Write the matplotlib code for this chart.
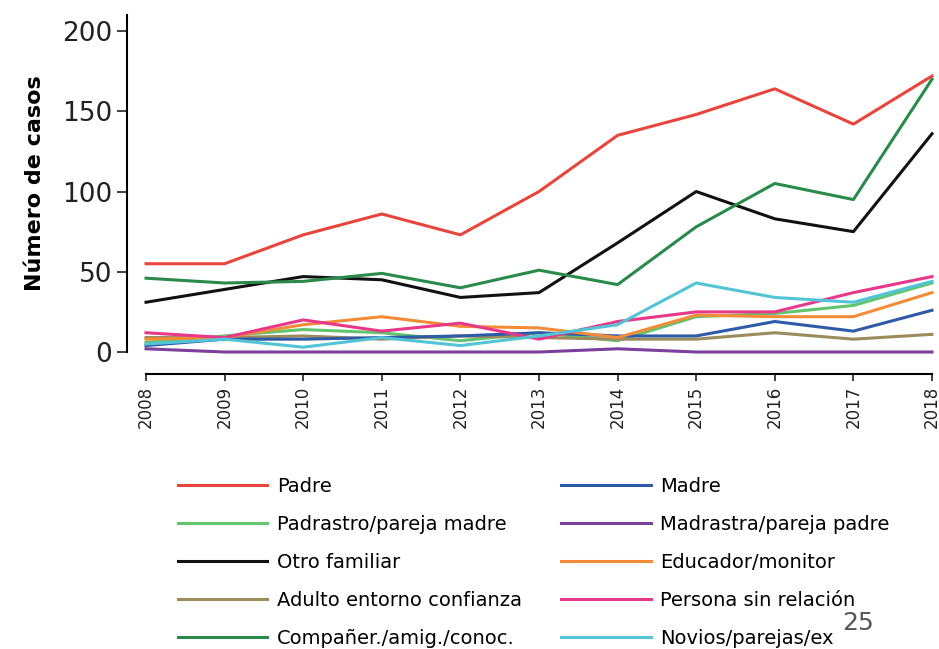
import matplotlib
matplotlib.use('Agg')
import matplotlib.pyplot as plt

years = [2008, 2009, 2010, 2011, 2012, 2013, 2014, 2015, 2016, 2017, 2018]

padre = [55, 55, 73, 86, 73, 100, 135, 148, 164, 142, 172]
madre = [4, 8, 8, 9, 10, 12, 10, 10, 19, 13, 26]
padrastro = [6, 10, 14, 12, 7, 12, 7, 22, 24, 29, 43]
madrastra = [2, 0, 0, 0, 0, 0, 2, 0, 0, 0, 0]
otro_familiar = [31, 39, 47, 45, 34, 37, 68, 100, 83, 75, 136]
educador = [8, 9, 17, 22, 16, 15, 9, 23, 22, 22, 37]
adulto = [9, 9, 10, 8, 10, 9, 8, 8, 12, 8, 11]
persona = [12, 9, 20, 13, 18, 8, 19, 25, 25, 37, 47]
companer = [46, 43, 44, 49, 40, 51, 42, 78, 105, 95, 170]
novios = [5, 8, 3, 9, 4, 10, 17, 43, 34, 31, 44]

# label, values, colour (column order for the 2-column legend)
series = [
    ('Padre', padre, '#e8453c'),
    ('Padrastro/pareja madre', padrastro, '#62c46e'),
    ('Otro familiar', otro_familiar, '#111111'),
    ('Adulto entorno confianza', adulto, '#9c8b5c'),
    ('Compañer./amig./conoc.', companer, '#2a8a4a'),
    ('Madre', madre, '#2f5aa8'),
    ('Madrastra/pareja padre', madrastra, '#7b3f9c'),
    ('Educador/monitor', educador, '#f28c38'),
    ('Persona sin relación', persona, '#e8388a'),
    ('Novios/parejas/ex', novios, '#52c4d6'),
]

fig = plt.figure(figsize=(9.39, 6.49), dpi=100)
ax = fig.add_axes([146 / 939, 1 - 352 / 649, (932 - 146) / 939, (352 - 15) / 649])

# spines first: moving them resets the ticks
for s in ['top', 'right']:
    ax.spines[s].set_visible(False)
ax.spines['left'].set_position(('outward', 14))
ax.spines['bottom'].set_position(('outward', 16))
ax.spines['left'].set_linewidth(1.5)
ax.spines['bottom'].set_linewidth(1.5)

handles = []
for label, vals, col in series:
    h, = ax.plot(years, vals, color=col, lw=2.2, label=label, clip_on=False)
    handles.append(h)

ax.set_xlim(2008, 2018)
ax.set_ylim(0, 210)
ax.set_yticks([0, 50, 100, 150, 200])
ax.set_xticks(years)
ax.set_xticklabels([str(y) for y in years], rotation=90, fontsize=12)
ax.tick_params(axis='y', labelsize=19, length=7, width=1.2, colors='#222222')
ax.tick_params(axis='x', length=5, width=1.2, colors='#222222')
ax.set_ylabel('Número de casos', fontsize=16, fontweight='bold', labelpad=12)

fig.legend(handles=handles, ncol=2, loc='upper left', frameon=False,
           bbox_to_anchor=(178 / 939, 1 - 477 / 649), fontsize=14,
           handlelength=4.6, handletextpad=0.5, labelspacing=0.98,
           columnspacing=2.0, borderpad=0, borderaxespad=0)

fig.text(858 / 939, 1 - 623 / 649, '25', fontsize=18, color='#555555',
         ha='center', va='center')

fig.savefig('out.png', dpi=100)
